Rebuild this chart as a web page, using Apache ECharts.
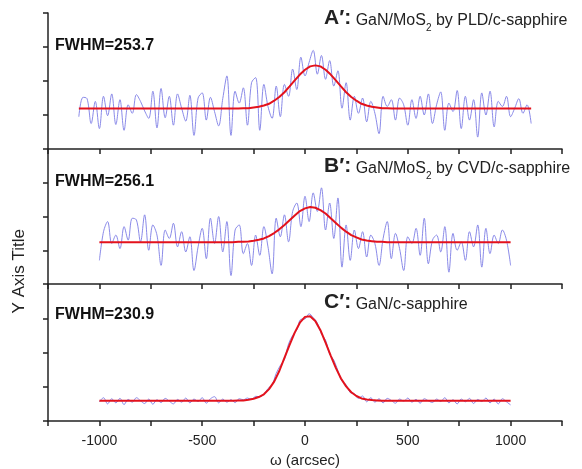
<!DOCTYPE html>
<html>
<head>
<meta charset="utf-8">
<script src="https://cdn.jsdelivr.net/npm/echarts@6/dist/echarts.min.js"></script>
<style>
  html, body { margin: 0; background: #fff; }
  #chart { width: 582px; height: 469px; }
</style>
</head>
<body>
<div id="chart"></div>
<script>
// rocking curves, omega in arcsec; raw scans sampled every 20 arcsec
const xTicks = [-1000, -500, 0, 500, 1000];
const fwhmLabels = ['FWHM=253.7', 'FWHM=256.1', 'FWHM=230.9'];
const panelTags = ['A\u2032', 'B\u2032', 'C\u2032'];
const panelSamples = [
  ['GaN/MoS', '2', ' by PLD/c-sapphire'],
  ['GaN/MoS', '2', ' by CVD/c-sapphire'],
  ['GaN/c-sapphire', '', '']
];

const startA = -1100, startB = -1000, startC = -1000, stepRaw = 20;

const rawA = [
  0.95, 1.52, 1.48, 0.75, 1.40, 0.60, 1.55, 0.98, 1.62, 0.72,
  1.45, 0.55, 1.30, 1.05, 1.60, 1.40, 1.12, 0.90, 1.70, 0.62,
  1.78, 0.92, 1.55, 0.70, 1.62, 1.20, 0.82, 1.58, 0.40, 1.50,
  1.65, 0.85, 1.52, 1.10, 0.68, 1.48, 2.15, 0.40, 1.70, 1.35,
  1.80, 0.70, 1.95, 2.10, 0.55, 1.90, 1.25, 0.90, 1.85, 0.95,
  1.90, 1.55, 2.35, 1.75, 2.70, 2.15, 2.55, 2.90, 2.20, 2.75,
  2.05, 2.60, 1.85, 2.30, 1.20, 1.95, 0.85, 1.55, 1.05, 1.50,
  0.80, 1.40, 1.05, 0.45, 1.55, 1.25, 1.45, 0.85, 1.50, 1.30,
  0.70, 1.45, 0.90, 1.55, 1.00, 1.62, 0.75, 1.30, 1.68, 0.55,
  1.35, 1.10, 1.72, 0.60, 1.55, 0.85, 1.45, 0.35, 1.65, 1.00,
  1.70, 0.65, 1.40, 1.25, 1.55, 0.95, 1.20, 1.48, 1.05, 1.30,
  0.75
];
const rawB = [
  0.70, 1.55, 1.85, 1.20, 1.45, 1.05, 1.70, 1.30, 1.95, 1.90,
  1.25, 2.05, 1.00, 1.75, 1.45, 0.55, 1.60, 1.35, 1.80, 1.10,
  1.55, 0.95, 1.40, 0.40, 1.10, 1.65, 0.75, 1.95, 1.20, 2.00,
  0.95, 1.85, 0.25, 1.60, 1.75, 0.90, 1.20, 0.55, 1.45, 0.85,
  1.70, 1.10, 0.30, 1.95, 1.40, 2.05, 1.25, 2.15, 2.40, 1.70,
  2.60, 1.85, 2.70, 2.15, 2.85, 1.60, 2.40, 1.35, 2.55, 0.50,
  1.75, 0.70, 1.60, 1.05, 1.55, 0.80, 1.45, 1.20, 0.55, 1.35,
  1.85, 0.75, 1.50, 1.05, 0.40, 1.40, 1.20, 1.65, 0.85, 1.95,
  0.60, 1.30, 1.45, 0.95, 1.70, 0.35, 1.50, 1.00, 1.25, 0.70,
  1.55, 1.10, 1.75, 0.50, 1.65, 0.90, 1.45, 1.20, 1.60, 1.30,
  0.55
];
const rawC = [
  0.56, 0.68, 0.50, 0.65, 0.53, 0.66, 0.48, 0.63, 0.55, 0.68,
  0.59, 0.51, 0.64, 0.49, 0.62, 0.54, 0.66, 0.58, 0.50, 0.63,
  0.55, 0.67, 0.53, 0.64, 0.57, 0.68, 0.52, 0.65, 0.71, 0.53,
  0.64, 0.55, 0.62, 0.54, 0.65, 0.62, 0.67, 0.63, 0.72, 0.71,
  0.78, 0.95, 1.06, 1.39, 1.62, 1.80, 2.25, 2.50, 2.66, 2.97,
  2.98, 3.13, 3.02, 2.86, 2.54, 2.36, 1.95, 1.78, 1.47, 1.16,
  1.06, 0.83, 0.80, 0.66, 0.73, 0.56, 0.68, 0.55, 0.65, 0.53,
  0.66, 0.60, 0.52, 0.64, 0.58, 0.67, 0.55, 0.63, 0.52, 0.65,
  0.59, 0.54, 0.64, 0.57, 0.68, 0.53, 0.62, 0.50, 0.64, 0.56,
  0.66, 0.51, 0.63, 0.57, 0.67, 0.53, 0.64, 0.50, 0.65, 0.56,
  0.47
];

// gaussian fits, every 25 arcsec around the peak
const fitXA = [-1100, -350, -325, -300, -275, -250, -225, -200, -175, -150, -125, -100, -75, -50, -25, 0,
  25, 50, 75, 100, 125, 150, 175, 200, 225, 250, 275, 300, 325, 350, 375, 400, 425, 450, 1100];
const fitYA = [1.19, 1.19, 1.19, 1.20, 1.20, 1.22, 1.24, 1.28, 1.33, 1.42, 1.53, 1.67, 1.84, 2.02, 2.19, 2.33,
  2.43, 2.46, 2.43, 2.33, 2.19, 2.02, 1.84, 1.67, 1.53, 1.42, 1.33, 1.28, 1.24, 1.22, 1.20, 1.20, 1.19, 1.19, 1.19];
const fitXB = [-1000, -350, -325, -300, -275, -250, -225, -200, -175, -150, -125, -100, -75, -50, -25, 0,
  25, 50, 75, 100, 125, 150, 175, 200, 225, 250, 275, 300, 325, 350, 375, 400, 425, 450, 1000];
const fitYB = [1.24, 1.24, 1.25, 1.25, 1.26, 1.28, 1.31, 1.35, 1.42, 1.51, 1.62, 1.75, 1.89, 2.03, 2.16, 2.24,
  2.28, 2.26, 2.19, 2.09, 1.95, 1.81, 1.67, 1.55, 1.45, 1.38, 1.32, 1.29, 1.27, 1.25, 1.25, 1.24, 1.24, 1.24, 1.24];
const fitXC = [-1000, -375, -350, -325, -300, -275, -250, -225, -200, -175, -150, -125, -100, -75, -50, -25, 0,
  25, 50, 75, 100, 125, 150, 175, 200, 225, 250, 275, 300, 325, 350, 375, 400, 425, 1000];
const fitYC = [0.59, 0.59, 0.59, 0.60, 0.60, 0.62, 0.65, 0.70, 0.78, 0.93, 1.15, 1.46, 1.84, 2.22, 2.58, 2.87, 3.04,
  3.06, 2.92, 2.65, 2.29, 1.91, 1.55, 1.24, 1.01, 0.84, 0.73, 0.66, 0.63, 0.61, 0.60, 0.59, 0.59, 0.59, 0.59];

const pairs = (start, ys) => ys.map((y, i) => [start + i * stepRaw, y]);
const zip = (xs, ys) => xs.map((x, i) => [x, ys[i]]);

const rawSets = [pairs(startA, rawA), pairs(startB, rawB), pairs(startC, rawC)];
const fitSets = [zip(fitXA, fitYA), zip(fitXB, fitYB), zip(fitXC, fitYC)];

const gridTops = [13, 149, 284];
const gridHeights = [136, 135, 137];
const axisColor = '#222';
const font = '"Liberation Sans", Arial, sans-serif';

const chart = echarts.init(document.getElementById('chart'));

const grids = gridTops.map((t, i) => ({ left: 48, right: 20, top: t, height: gridHeights[i] }));

const xAxes = [0, 1, 2].map(i => ({
  type: 'value', gridIndex: i, min: -1250, max: 1250, interval: 250,
  axisLine: { show: true, onZero: false, lineStyle: { color: axisColor, width: 1.5 } },
  axisTick: { show: true, inside: false, length: 5, lineStyle: { color: axisColor, width: 1.5 } },
  splitLine: { show: false },
  axisLabel: {
    show: i === 2, margin: 13, color: '#222', fontSize: 14, fontFamily: font,
    formatter: v => xTicks.includes(v) ? String(v) : ''
  },
  name: i === 2 ? '\u03c9 (arcsec)' : '',
  nameLocation: 'middle', nameGap: 32,
  nameTextStyle: { color: '#222', fontSize: 15, fontFamily: font }
}));

const yAxes = [0, 1, 2].map(i => ({
  type: 'value', gridIndex: i, min: 0, max: 4, interval: 1,
  axisLine: { show: true, onZero: false, lineStyle: { color: axisColor, width: 1.5 } },
  axisTick: { show: true, inside: false, length: 5, lineStyle: { color: axisColor, width: 1.5 } },
  axisLabel: { show: false },
  splitLine: { show: false }
}));

const series = [];
[0, 1, 2].forEach(i => {
  series.push({
    type: 'line', xAxisIndex: i, yAxisIndex: i, data: rawSets[i],
    showSymbol: false, smooth: 0.35,
    lineStyle: { color: '#7d7de6', width: 1, opacity: 0.9 }
  });
  series.push({
    type: 'line', xAxisIndex: i, yAxisIndex: i, data: fitSets[i],
    showSymbol: false, smooth: false,
    lineStyle: { color: '#e3121c', width: 2 }
  });
});

const fwhmY = [47, 183, 316];
const titleY = [20, 168, 304];
const graphic = [];
[0, 1, 2].forEach(i => {
  graphic.push({
    type: 'text', left: 55, top: fwhmY[i] - 9,
    style: { text: fwhmLabels[i], font: 'bold 16px ' + font, fill: '#111' }
  });
  const s = panelSamples[i];
  graphic.push({
    type: 'text', left: 324, top: titleY[i] - 12,
    style: {
      text: '{t|' + panelTags[i] + ':}{b| ' + s[0] + '}' + (s[1] ? '{s|' + s[1] + '}{b|' + s[2] + '}' : ''),
      rich: {
        t: { fontSize: 21, fontWeight: 'bold', fontFamily: font, fill: '#222', verticalAlign: 'bottom', lineHeight: 24 },
        b: { fontSize: 16, fontFamily: font, fill: '#222', verticalAlign: 'bottom', lineHeight: 22 },
        s: { fontSize: 10, fontFamily: font, fill: '#222', verticalAlign: 'bottom', lineHeight: 14, padding: [0, 0, -4, 0] }
      }
    }
  });
});
graphic.push({
  type: 'text', left: 11, top: 229, rotation: Math.PI / 2,
  style: { text: 'Y Axis Title', font: '17px ' + font, fill: '#222', align: 'center', verticalAlign: 'middle' }
});

chart.setOption({
  animation: false,
  grid: grids,
  xAxis: xAxes,
  yAxis: yAxes,
  series: series,
  graphic: graphic
});
</script>
</body>
</html>
